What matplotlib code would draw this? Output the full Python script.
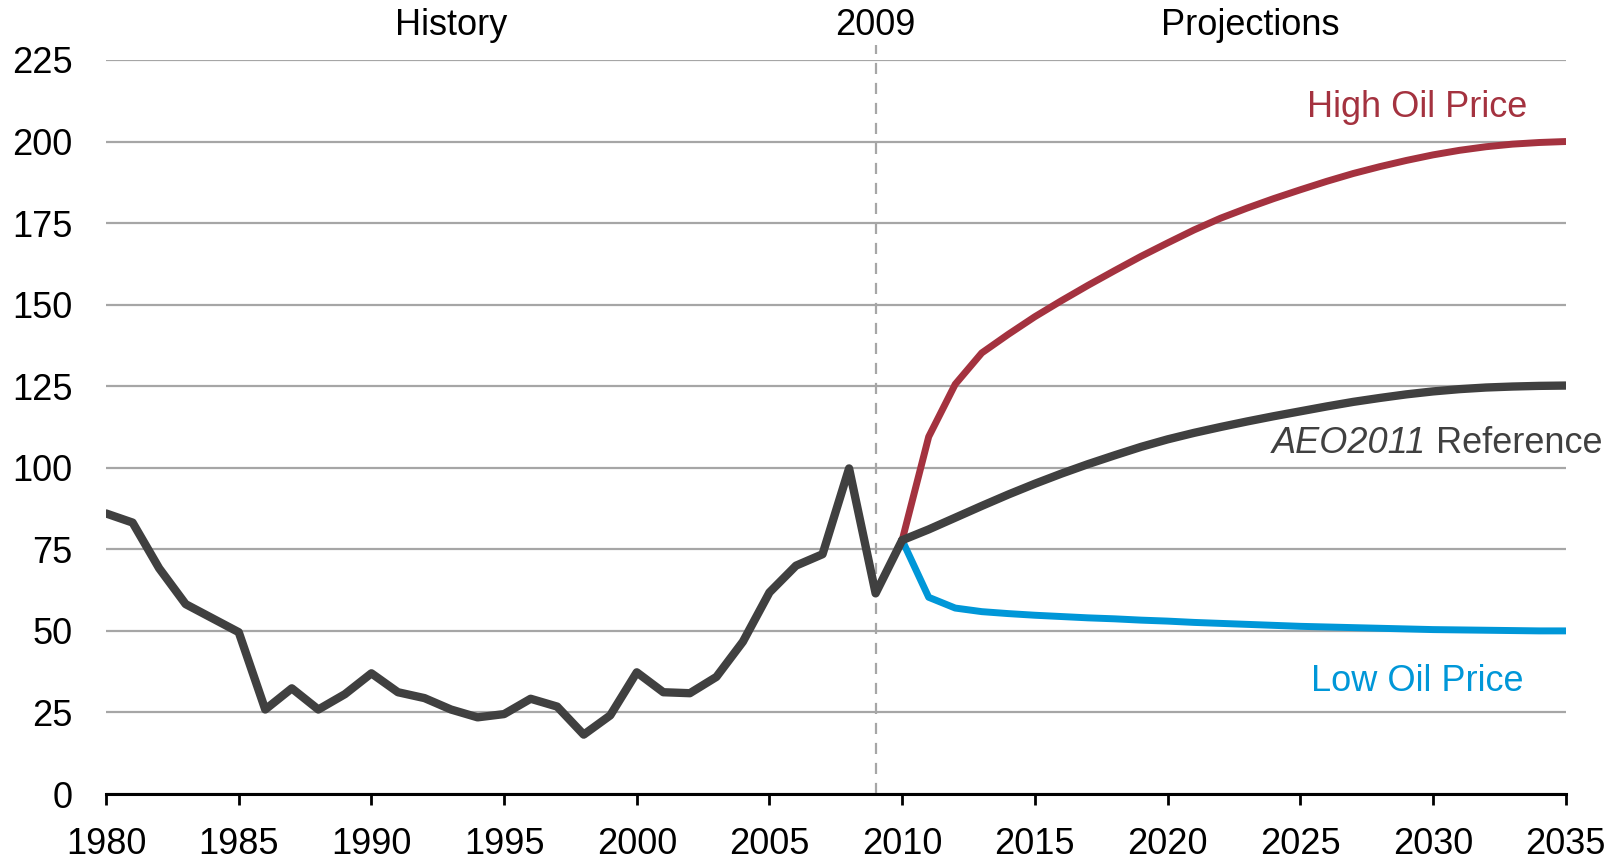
import numpy as np
import matplotlib
matplotlib.use("Agg")
import matplotlib.pyplot as plt

plt.rcParams['font.family'] = ['Liberation Sans', 'DejaVu Sans']

# historia 1980-2010
hist_years = list(range(1980, 2011))
hist_price = [86.0, 83.2, 69.2, 58.2, 53.9, 49.6, 25.9, 32.4, 25.9, 30.6,
              37.0, 31.2, 29.4, 25.9, 23.5, 24.5, 29.2, 26.8, 18.2, 24.1,
              37.3, 31.2, 30.9, 35.9, 46.7, 61.8, 70.0, 73.5, 99.8, 61.5,
              77.8]

# projecoes 2010-2035
proj_years = list(range(2010, 2036))
ref_price = [77.8, 81.1, 84.7, 88.3, 91.8, 95.1, 98.2, 101.1, 103.8, 106.4,
             108.7, 110.7, 112.5, 114.2, 115.8, 117.3, 118.8, 120.2, 121.4, 122.5,
             123.4, 124.1, 124.6, 124.9, 125.1, 125.2]
high_price = [77.8, 109.5, 125.6, 135.2, 140.9, 146.3, 151.2, 155.9, 160.4, 164.8,
              168.9, 172.9, 176.5, 179.6, 182.5, 185.2, 187.8, 190.2, 192.3, 194.2,
              195.9, 197.3, 198.4, 199.2, 199.7, 200.0]
low_price = [77.8, 60.3, 57.0, 55.9, 55.3, 54.8, 54.4, 54.0, 53.7, 53.3,
             53.0, 52.6, 52.3, 52.0, 51.7, 51.4, 51.2, 51.0, 50.8, 50.6,
             50.4, 50.3, 50.2, 50.1, 50.0, 50.0]

dark = '#404040'
red = '#A4323F'
blue = '#0097D8'
grid_col = '#A6A6A6'

fig = plt.figure(figsize=(16.19, 8.64), dpi=100)
ax = fig.add_axes([0.0655, 0.081, 0.9015, 0.8496])

ax.set_xlim(1980, 2035)
ax.set_ylim(0, 225)
ax.set_yticks(range(0, 226, 25))
ax.set_xticks(range(1980, 2036, 5))
ax.grid(axis='y', color=grid_col, linewidth=1.6)
ax.set_axisbelow(True)

for s in ['left', 'right', 'top']:
    ax.spines[s].set_visible(False)
ax.spines['bottom'].set_linewidth(2.2)
ax.spines['bottom'].set_zorder(5)

ax.tick_params(axis='y', length=0, pad=24, labelsize=26)
ax.tick_params(axis='x', length=8, width=2, direction='out', pad=16, labelsize=26)

# linha 2009
ax.plot([2009, 2009], [0, 229.5], color=grid_col, linewidth=1.6,
        linestyle=(0, (5, 4)), clip_on=False, zorder=1)

ax.plot(proj_years, high_price, color=red, linewidth=5, solid_capstyle='round', zorder=3)
ax.plot(proj_years, low_price, color=blue, linewidth=5, solid_capstyle='round', zorder=3)
ax.plot(proj_years, ref_price, color=dark, linewidth=6, solid_capstyle='round', zorder=4)
ax.plot(hist_years, hist_price, color=dark, linewidth=6, solid_capstyle='round', zorder=4)

ax.text(1993, 235.6, 'History', ha='center', va='center', fontsize=26, clip_on=False)
ax.text(2009, 235.6, '2009', ha='center', va='center', fontsize=26, clip_on=False)
ax.text(2023.1, 235.6, 'Projections', ha='center', va='center', fontsize=26, clip_on=False)

ax.text(2029.4, 210.3, 'High Oil Price', ha='center', va='center', fontsize=26, color=red)
ref_lbl = ax.text(2036.4, 107.5, 'Reference', ha='right', va='center',
                  fontsize=26, color=dark, clip_on=False)
ax.annotate('AEO2011 ', xy=(0, 0), xycoords=ref_lbl, ha='right', va='bottom',
            fontsize=26, color=dark, style='italic', annotation_clip=False)
ax.text(2029.4, 34.4, 'Low Oil Price', ha='center', va='center', fontsize=26, color=blue)

plt.savefig('out.png', dpi=100)
